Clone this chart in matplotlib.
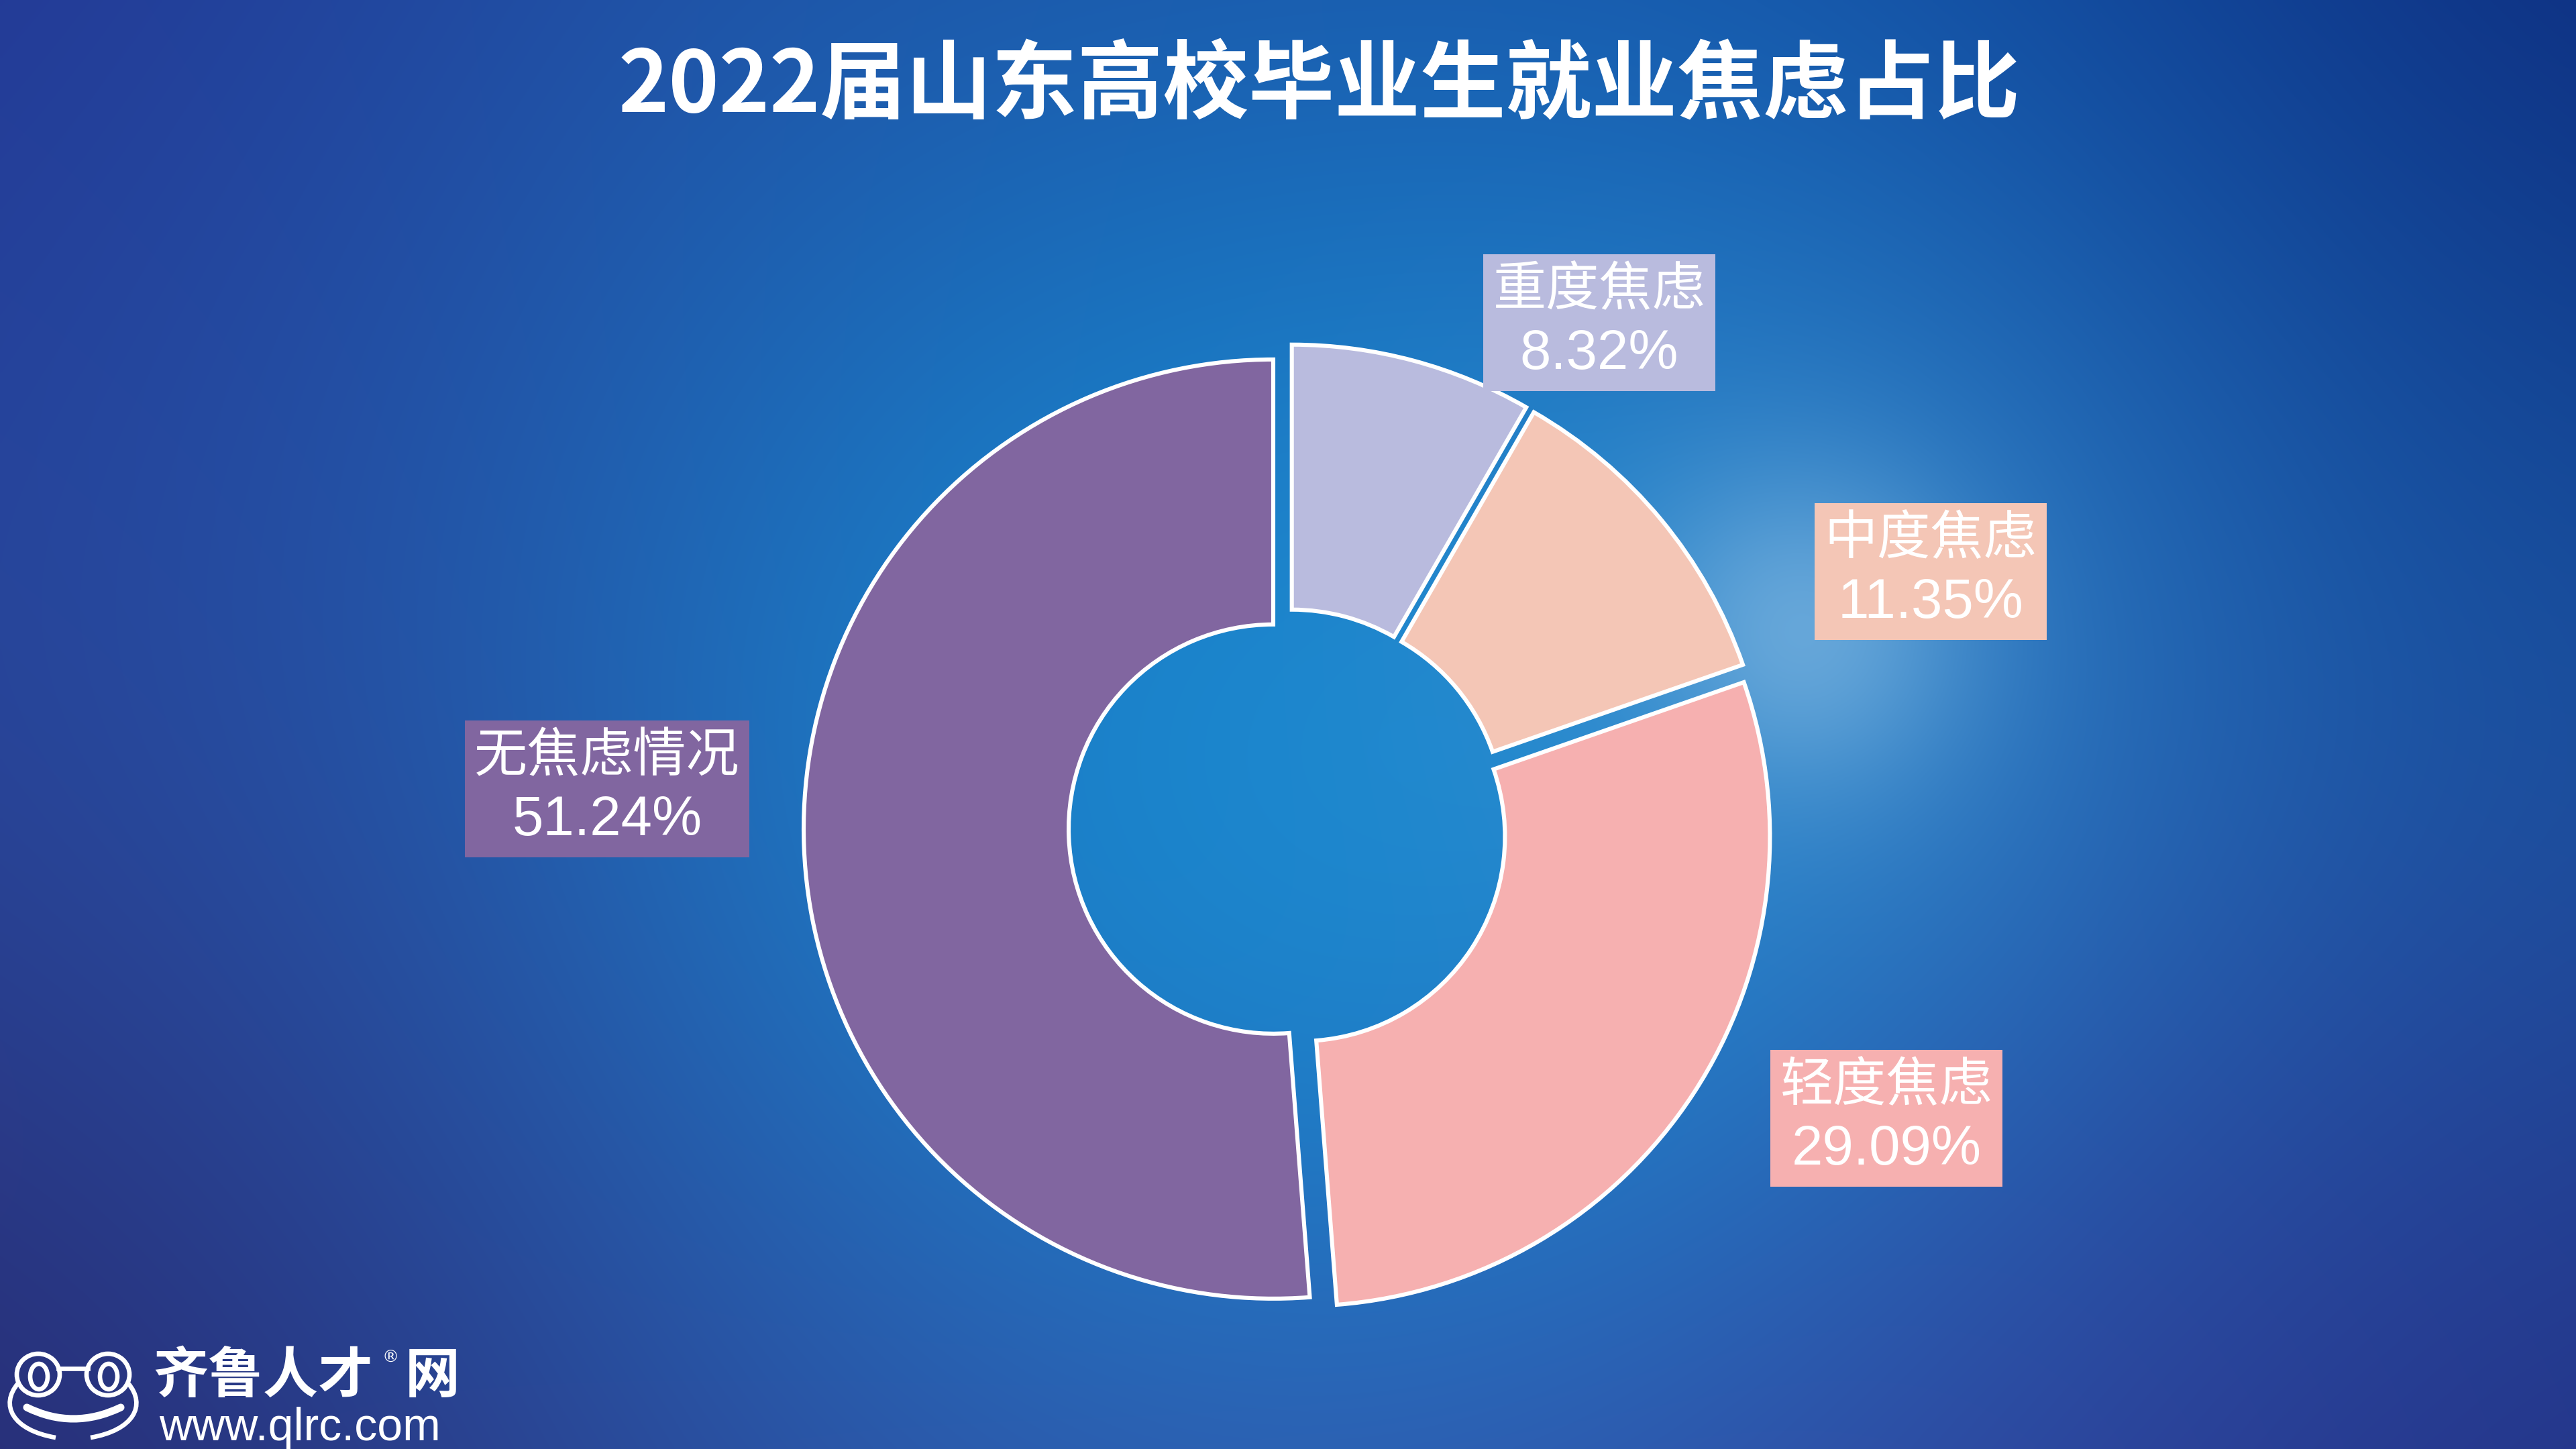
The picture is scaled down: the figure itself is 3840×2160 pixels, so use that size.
import numpy as np
import matplotlib.pyplot as plt
from matplotlib.patches import Rectangle, Ellipse, PathPatch
from matplotlib.path import Path

W, H = 3840, 2160

# chart data
title = '2022届山东高校毕业生就业焦虑占比'
categories = ['重度焦虑', '中度焦虑', '轻度焦虑', '无焦虑情况']
shares = [8.32, 11.35, 29.09, 51.24]
colors = ['#b9bbde', '#f4c6b6', '#f6b0b0', '#8166a0']

# layout: label box centres, pixels from top-left
label_pos = [(2384, 481), (2878, 852), (2812, 1667), (905, 1176)]

# background colour anchors (x, y from top, r, g, b)
bg_anchor_x = [100, 1920, 3740, 150, 3670, 100, 1950, 3740, 1870, 900, 2900, 1000, 3000, 2450]
bg_anchor_y = [100, 100, 100, 1050, 1050, 2060, 2070, 2060, 1150, 500, 350, 1750, 1850, 700]
bg_anchor_c = [(35, 47, 143), (30, 72, 158), (12, 30, 112), (44, 74, 160), (26, 98, 172),
               (40, 36, 105), (56, 80, 168), (33, 40, 124), (26, 136, 204), (30, 95, 175),
               (16, 80, 168), (42, 78, 162), (55, 72, 165), (20, 115, 195)]


def Y(y):
    return H - y


fig = plt.figure(figsize=(19.2, 10.8), dpi=200)
ax = fig.add_axes([0, 0, 1, 1])

# smooth background
xs = np.linspace(0, W, 960)
ys = np.linspace(0, H, 540)
gx, gy = np.meshgrid(xs, ys)
px = np.array(bg_anchor_x, float)
py = np.array(bg_anchor_y, float)
pc = np.array(bg_anchor_c, float) / 255
s = 620.0
wts = np.exp(-((gx[..., None] - px) ** 2 + (gy[..., None] - py) ** 2) / (2 * s * s))
img = np.einsum('ijk,kc->ijc', wts, pc) / wts.sum(2)[..., None]
# brighter blue around the chart centre
dc = ((gx - 2000) / 1.15) ** 2 + (gy - 1150) ** 2
gc = 0.8 * np.exp(-dc / (2 * 600 ** 2))
centre_col = np.array([24, 140, 210]) / 255
img = img * (1 - gc[..., None]) + centre_col * gc[..., None]
# light glow near the right side
d2 = (gx - 2690) ** 2 + (gy - 940) ** 2
g = 0.65 * np.exp(-d2 / (2 * 170 ** 2)) + 0.25 * np.exp(-d2 / (2 * 420 ** 2))
glow = np.array([110, 172, 220]) / 255
img = img * (1 - g[..., None]) + glow * g[..., None]
ax.imshow(np.clip(img, 0, 1), extent=(0, W, 0, H), origin='upper', interpolation='bilinear', zorder=0)

# donut
R = 700
cx, cy = 1920, Y(1235)
wedges, _ = ax.pie(shares, colors=colors, startangle=90, counterclock=False,
                   center=(cx, cy), radius=R, explode=[22] * len(shares), frame=True,
                   wedgeprops=dict(width=395, edgecolor='white', linewidth=2.2))
for w in wedges:
    w.set_zorder(2)

# label boxes
for name, val, col, (lx, ly) in zip(categories, shares, colors, label_pos):
    bw = 78 * len(name) + 34
    bh = 204
    ax.add_patch(Rectangle((lx - bw / 2, Y(ly) - bh / 2), bw, bh, facecolor=col,
                           edgecolor='none', zorder=3))
    ax.text(lx, Y(ly) + 48, name, ha='center', va='center', color='white',
            fontsize=28.5, family=['Noto Sans CJK SC', 'DejaVu Sans'], zorder=4)
    ax.text(lx, Y(ly) - 47, f'{val:.2f}%', ha='center', va='center', color='white',
            fontsize=30, family=['Liberation Sans', 'DejaVu Sans'], zorder=4)

# title
ax.text(1967, Y(130), title, ha='center', va='center', color='white', fontsize=46,
        fontweight='black', family=['Noto Sans CJK SC', 'DejaVu Sans'], zorder=4)

# logo: frog outline
lw = 2.4
for ex in (57, 161):
    ax.add_patch(Ellipse((ex, Y(2049)), 64, 62, fill=False, edgecolor='white', lw=lw, zorder=4))
    ax.add_patch(Ellipse((ex + 1, Y(2052)), 26, 38, fill=False, edgecolor='white', lw=lw, zorder=4))
ax.plot([87, 131], [Y(2040), Y(2040)], color='white', lw=lw, zorder=4)
for sgn in (1, -1):
    pts = [(109 - sgn * 82, Y(2062)), (109 - sgn * 110, Y(2095)),
           (109 - sgn * 90, Y(2132)), (109 - sgn * 26, Y(2143))]
    ax.add_patch(PathPatch(Path(pts, [Path.MOVETO, Path.CURVE4, Path.CURVE4, Path.CURVE4]),
                           fill=False, edgecolor='white', lw=lw, zorder=4))
smile = Path([(40, Y(2098)), (109, Y(2132)), (180, Y(2098))], [Path.MOVETO, Path.CURVE3, Path.CURVE3])
ax.add_patch(PathPatch(smile, fill=False, edgecolor='white', lw=4, capstyle='round', zorder=4))

# logo text
ax.text(228, Y(2052), '齐鲁人才', ha='left', va='center', color='white', fontsize=29.5,
        fontweight='black', family=['Noto Sans CJK SC', 'DejaVu Sans'], zorder=4)
ax.text(582, Y(2024), '®', ha='center', va='center', color='white', fontsize=9,
        family=['DejaVu Sans'], zorder=4)
ax.text(686, Y(2052), '网', ha='right', va='center', color='white', fontsize=29.5,
        fontweight='black', family=['Noto Sans CJK SC', 'DejaVu Sans'], zorder=4)
ax.text(237, Y(2129), 'www.qlrc.com', ha='left', va='center', color='white', fontsize=24.5,
        family=['Liberation Sans', 'DejaVu Sans'], zorder=4)

ax.set_xlim(0, W)
ax.set_ylim(0, H)
ax.set_aspect('auto')
ax.axis('off')

fig.savefig('out.png', dpi=200)
